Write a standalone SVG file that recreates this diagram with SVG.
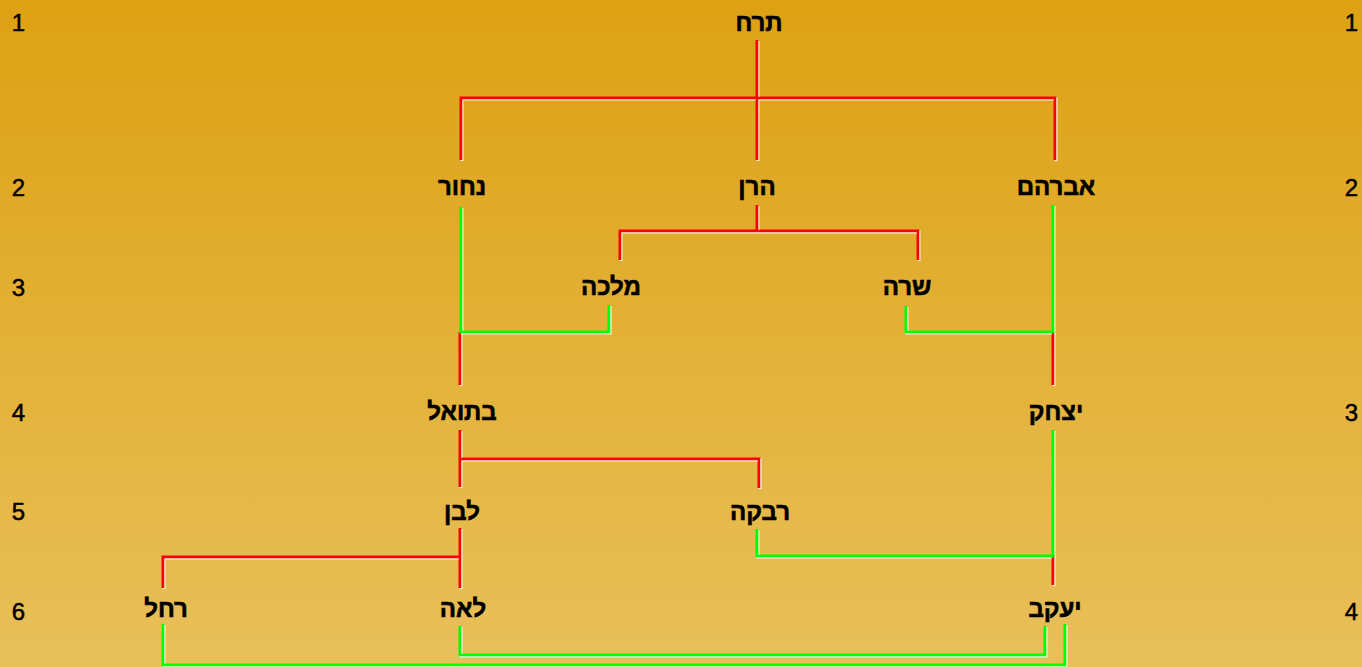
<svg xmlns="http://www.w3.org/2000/svg" width="1362" height="667" viewBox="0 0 1362 667">
<defs>
<linearGradient id="bg" x1="0" y1="0" x2="0" y2="1">
<stop offset="0" stop-color="#DDA112"/>
<stop offset="1" stop-color="#E8C05A"/>
</linearGradient>
<filter id="halo" x="-5%" y="-5%" width="110%" height="110%">
<feDropShadow dx="1" dy="1" stdDeviation="0" flood-color="#ffffff" flood-opacity="0.85"/>
</filter>
</defs>
<style>
.n{font-family:"Liberation Sans","DejaVu Sans",sans-serif;font-weight:bold;font-size:24px;fill:#000;stroke:#000;stroke-width:0.6;text-anchor:middle}
.num{font-family:"Liberation Sans","DejaVu Sans",sans-serif;font-weight:normal;font-size:24px;fill:#000;stroke:#000;stroke-width:0.5;text-anchor:middle}
.r{fill:none;stroke:#FF0000;stroke-width:3}
.g{fill:none;stroke:#00FF00;stroke-width:3}
</style>
<rect width="1362" height="667" fill="url(#bg)"/>
<g id="connectors" filter="url(#halo)">
<path class="r" d="M757,40 V160"/>
<path class="r" d="M461,160 V98 H1055 V160"/>
<path class="r" d="M757,205 V231"/>
<path class="r" d="M620,260 V231 H918 V260"/>
<path class="r" d="M460,332 V385"/>
<path class="r" d="M1053,332 V385"/>
<path class="r" d="M460,430 V487"/>
<path class="r" d="M460,459 H759 V488"/>
<path class="r" d="M460,528 V588"/>
<path class="r" d="M163,588 V557 H460"/>
<path class="r" d="M1053,555 V585"/>
<path class="g" d="M461,207 V332 H609 V305"/>
<path class="g" d="M1053,205 V332 H906 V306"/>
<path class="g" d="M1053,430 V556 H757 V529"/>
<path class="g" d="M460,626 V655 H1045 V626"/>
<path class="g" d="M163,624 V665 H1065 V624"/>
</g>
<g id="numbers">
<text class="num" x="18.5" y="31">1</text>
<text class="num" x="18.5" y="196">2</text>
<text class="num" x="18.5" y="296">3</text>
<text class="num" x="18.5" y="421">4</text>
<text class="num" x="18.5" y="520">5</text>
<text class="num" x="18.5" y="620">6</text>
<text class="num" x="1351.5" y="31">1</text>
<text class="num" x="1351.5" y="196">2</text>
<text class="num" x="1351.5" y="421">3</text>
<text class="num" x="1351.5" y="620">4</text>
</g>
<g id="terah"><text class="n" x="759" y="31">תרח</text></g>
<g id="nahor"><text class="n" x="462" y="195">נחור</text></g>
<g id="haran"><text class="n" x="757" y="195">הרן</text></g>
<g id="avraham"><text class="n" x="1056" y="195">אברהם</text></g>
<g id="milka"><text class="n" x="611" y="295">מלכה</text></g>
<g id="sarah"><text class="n" x="907" y="295">שרה</text></g>
<g id="betuel"><text class="n" x="462" y="420">בתואל</text></g>
<g id="yitzhak"><text class="n" x="1056" y="420">יצחק</text></g>
<g id="lavan"><text class="n" x="462" y="520">לבן</text></g>
<g id="rivka"><text class="n" x="760" y="520">רבקה</text></g>
<g id="rachel"><text class="n" x="166" y="617">רחל</text></g>
<g id="leah"><text class="n" x="463" y="617">לאה</text></g>
<g id="yaakov"><text class="n" x="1055" y="617">יעקב</text></g>
</svg>
